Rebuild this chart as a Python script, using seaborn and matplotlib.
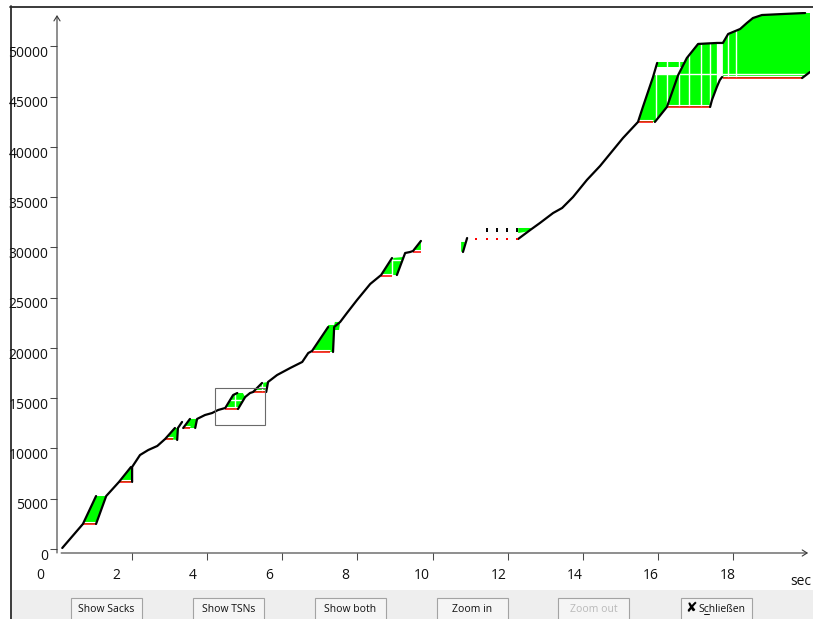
import numpy as np
import pandas as pd
import matplotlib
matplotlib.use("Agg")
import matplotlib.pyplot as plt
import matplotlib.transforms as mtransforms
from matplotlib.patches import Polygon, Rectangle
from matplotlib.lines import Line2D
import seaborn as sns

sns.set_style("white")
plt.rcParams["font.family"] = ["Open Sans", "DejaVu Sans"]

# ---------------------------------------------------------------- data
# Transmitted TSNs (black trace), one list per unbroken run
tsn_t = [
    [0.14, 0.69, 1.04],
    [1.04, 1.31, 1.65, 1.97],
    [2.00, 2.00, 2.21, 2.43, 2.67, 2.88, 3.14],
    [3.20, 3.22, 3.33],
    [3.36, 3.54],
    [3.68, 3.73, 3.94, 4.13, 4.29, 4.48, 4.69, 4.80],
    [4.82, 5.01, 5.14, 5.22, 5.46],
    [5.57, 5.62, 5.86, 6.21, 6.53, 6.69, 6.79, 7.22],
    [7.35, 7.38, 7.54, 7.72, 7.99, 8.34, 8.63, 8.92],
    [9.05, 9.27, 9.40, 9.48, 9.69],
    [10.81, 10.92],
    [12.28, 12.60, 12.86, 13.21, 13.45, 13.74, 14.11, 14.46, 15.07, 15.47,
     15.60, 15.87, 15.98],
    [15.92, 16.24, 16.54, 16.77, 17.07, 17.57, 17.73, 17.87, 18.19, 18.37,
     18.53, 18.77, 19.33, 19.92],
    [17.39, 17.44, 17.57, 17.65, 17.71],
    [19.84, 20.05],
]
tsn_v = [
    [100, 2490, 5270],
    [2490, 5270, 6670, 8160],
    [6670, 8160, 9350, 9850, 10250, 10950, 12040],
    [10850, 12040, 12640],
    [12040, 12940],
    [12040, 12940, 13330, 13530, 13830, 14030, 15320, 15520],
    [13930, 15120, 15520, 15620, 16520],
    [15620, 16620, 17310, 18010, 18610, 19500, 19700, 22090],
    [19600, 22090, 22590, 23480, 24780, 26370, 27260, 28950],
    [27260, 29450, 29550, 29650, 30650],
    [29550, 30940],
    [30850, 31740, 32440, 33430, 33930, 35020, 36720, 38110, 40890, 42490,
     43980, 46960, 48360],
    [42490, 43980, 47160, 48850, 50250, 50350, 50350, 51240, 51740, 52340,
     52830, 53130, 53230, 53330],
    [43980, 44680, 45970, 46670, 46960],
    [46860, 47460],
]

# Single TSNs / cumulative acks in the sparse stretch around 11-12 s
lone_tsn_t = [11.45, 11.72, 11.98, 12.25]
lone_tsn_v = [31740, 31740, 31740, 31740]
lone_ack_t = [11.16, 11.45, 11.72, 11.98, 12.25]
lone_ack_v = [30850, 30850, 30850, 30850, 30850]

# Cumulative TSN ack (red): start time, end time, acked TSN
cum_t0 = [0.69, 1.65, 2.88, 3.36, 4.48, 5.22, 6.79, 8.63, 9.48, 15.47, 16.24, 17.73]
cum_t1 = [1.04, 1.97, 3.09, 3.54, 4.82, 5.54, 7.27, 8.92, 9.69, 15.87, 17.39, 19.84]
cum_v = [2490, 6670, 10950, 12040, 13930, 15620, 19600, 27160, 29550, 42490, 43980, 46860]

# Gap-ack blocks (green), outline vertices as (time, TSN)
gap_t = [
    [0.69, 1.04, 1.31, 1.04],
    [1.65, 1.97, 2.00, 2.00],
    [2.88, 3.14, 3.22, 3.20],
    [3.36, 3.54, 3.73, 3.68],
    [4.48, 4.69, 4.80, 4.95, 5.01, 4.82],
    [5.22, 5.46, 5.62, 5.57],
    [6.79, 7.22, 7.22, 7.38, 7.40, 7.54, 7.51, 7.38, 7.35],
    [8.63, 8.92, 9.21, 9.27, 9.05],
    [9.48, 9.69, 9.69],
    [10.76, 10.76, 10.86, 10.84],
    [12.28, 12.28, 12.62, 12.60],
    [15.47, 15.87, 15.90, 16.56, 16.77, 17.07, 17.57, 17.57, 17.44, 17.39,
     16.24, 15.98, 15.92],
    [15.98, 16.70, 16.70, 15.98],
    [17.73, 17.73, 17.87, 18.19, 18.37, 18.53, 18.77, 19.33, 19.92, 20.05,
     20.05, 19.84],
]
gap_v = [
    [2490, 5270, 5270, 2490],
    [6670, 8160, 8160, 6670],
    [10950, 12040, 12040, 10850],
    [12040, 12940, 12940, 12040],
    [14030, 15320, 15520, 15520, 15120, 13930],
    [15620, 16520, 16620, 15620],
    [19700, 22090, 22290, 22290, 22590, 22590, 21790, 21790, 19600],
    [27260, 28950, 29050, 29450, 27260],
    [29650, 30650, 29650],
    [29550, 30550, 30550, 29750],
    [31440, 31940, 31940, 31640],
    [42490, 46960, 47260, 47260, 48850, 50350, 50350, 45970, 44680, 43980,
     43980, 42690, 42490],
    [48460, 48460, 47960, 47960],
    [46860, 50350, 51240, 51740, 52340, 52830, 53130, 53230, 53330, 53330,
     47460, 46860],
]
# Boundaries between neighbouring gap blocks
gap_split_t = [4.75, 5.46, 8.92, 15.95, 16.24, 16.56, 16.83, 17.15, 17.39, 17.87, 18.08]
gap_split_v = [14830, 16120, 28760, 47310]

# Zoom selection frame (time span, TSN span)
zoom_t = [4.21, 5.54]
zoom_v = [12340, 16020]

xticks = [2, 4, 6, 8, 10, 12, 14, 16, 18]
xlabels = ["0", "2", "4", "6", "8", "10", "12", "14", "16", "18"]
xlabel_pos = [0, 2, 4, 6, 8, 10, 12, 14, 16, 18]
yticks = [0, 5000, 10000, 15000, 20000, 25000, 30000, 35000, 40000, 45000, 50000]
buttons = ["Show Sacks", "Show TSNs", "Show both", "Zoom in", "Zoom out", "Schließen"]

GREEN = "#00ff00"
RED = "#ff0000"

# ---------------------------------------------------------------- figure
W, H = 813, 619
fig = plt.figure(figsize=(W / 100, H / 100), dpi=100)
fig.patch.set_facecolor("white")


def fx(px):
    return px / W


def fy(py):
    return 1 - py / H


def shift(dx, dy):
    """Offset in screen pixels (dy positive = downwards)."""
    return mtransforms.ScaledTranslation(dx / 100, -dy / 100, fig.dpi_scale_trans)


ax = fig.add_axes([fx(57), fy(553), (810 - 57) / W, (553 - 12) / H])
ax.set_facecolor("none")
for sp in ax.spines.values():
    sp.set_visible(False)

# gap-ack blocks with white separators clipped to each block
for pt, pv in zip(gap_t, gap_v):
    patch = Polygon(np.column_stack([pt, pv]), closed=True, facecolor=GREEN,
                    edgecolor="none", zorder=1)
    ax.add_patch(patch)
    for t in gap_split_t:
        ln = ax.axvline(t, color="white", lw=1.0, zorder=1.5)
        ln.set_clip_path(patch)
    for v in gap_split_v:
        ln = ax.axhline(v, color="white", lw=1.0, zorder=1.5)
        ln.set_clip_path(patch)

# cumulative ack lines, each with a thin white seam above
ax.hlines(cum_v, cum_t0, cum_t1, colors="white", lw=0.8, zorder=1.8,
          transform=ax.transData + shift(0, -1.6))
red_df = pd.DataFrame({
    "run": np.repeat(np.arange(len(cum_v)), 2),
    "time": np.column_stack([cum_t0, cum_t1]).ravel(),
    "tsn": np.repeat(cum_v, 2),
})
sns.lineplot(data=red_df, x="time", y="tsn", units="run", estimator=None,
             sort=False, color=RED, linewidth=1.1, ax=ax, legend=False,
             zorder=2, solid_capstyle="butt")

# TSN trace
tsn_df = pd.DataFrame(
    [(i, t, v) for i, (ts, vs) in enumerate(zip(tsn_t, tsn_v)) for t, v in zip(ts, vs)],
    columns=["run", "time", "tsn"])
sns.lineplot(data=tsn_df, x="time", y="tsn", units="run", estimator=None,
             sort=False, color="black", linewidth=1.6, ax=ax, legend=False,
             zorder=4)
sns.scatterplot(x=lone_tsn_t, y=lone_tsn_v, marker="|", s=9, color="black",
                linewidth=1.4, ax=ax, zorder=4, legend=False)
sns.scatterplot(x=lone_ack_t, y=lone_ack_v, marker="s", s=2, color=RED,
                edgecolor="none", ax=ax, zorder=4, legend=False)

# zoom selection frame
ax.add_patch(Rectangle((zoom_t[0], zoom_v[0]), zoom_t[1] - zoom_t[0],
                       zoom_v[1] - zoom_v[0], fill=False, edgecolor="#6a6a6a",
                       lw=0.8, zorder=5))

ax.set_xlim(0, 20.05)
ax.set_ylim(-398, 53430)
ax.set_xlabel("")
ax.set_ylabel("")

# axes with open arrow heads
arrow_kw = dict(arrowstyle="->,head_length=0.35,head_width=0.22", color="#3a3a3a",
                lw=0.8, shrinkA=0, shrinkB=0, clip_on=False)
ax.annotate("", xy=(0, 53130), xytext=(0, -398), arrowprops=arrow_kw,
            annotation_clip=False)
ax.annotate("", xy=(20.0, -398), xytext=(0.11, -398), arrowprops=arrow_kw,
            annotation_clip=False)

# ticks
ax.set_xticks(xticks)
ax.set_yticks(yticks)
ax.tick_params(axis="both", direction="out", length=5.0, width=0.75,
               color="#4a4a4a", labelbottom=False, labelleft=False,
               bottom=True, left=True)

label_kw = dict(fontsize=10, color="#111111", family=["Open Sans", "DejaVu Sans"])
xtr = mtransforms.blended_transform_factory(ax.transData, fig.transFigure)
for i, (pos, lab) in enumerate(zip(xlabel_pos, xlabels)):
    dx = -16.5 + 0.6 * pos
    fig.text(pos, fy(579.3), lab, transform=xtr + shift(dx, 0), ha="center",
             va="baseline", **label_kw)
fig.text(fx(790.5), fy(585), "sec", ha="left", va="baseline", **label_kw)

ytr = mtransforms.blended_transform_factory(fig.transFigure, ax.transData)
for v in yticks:
    fig.text(fx(48.5), v, f"{v}", transform=ytr + shift(0, 10.6), ha="right",
             va="baseline", **label_kw)

# window frame
fig.add_artist(Line2D([fx(10.5), fx(10.5)], [fy(6), fy(620)], color="#2b2b2b",
                      lw=1.3, transform=fig.transFigure))
fig.add_artist(Line2D([fx(10), fx(814)], [fy(6.5), fy(6.5)], color="#2b2b2b",
                      lw=1.3, transform=fig.transFigure))

# button bar
fig.add_artist(Rectangle((fx(11.5), 0), 1 - fx(11.5), fy(590), facecolor="#eeeeee",
                         edgecolor="none", transform=fig.transFigure, zorder=0))
btn_left = [71, 193, 315, 437, 558, 681]
btn_font = ["Open Sans", "DejaVu Sans"]
btn_size = 7.5
for left, name in zip(btn_left, buttons):
    fig.add_artist(Rectangle((fx(left), fy(623)), 71 / W, 25 / H,
                             facecolor="#f5f5f5", edgecolor="#a3a3a3", lw=0.8,
                             transform=fig.transFigure, zorder=1))
    col = "#b9b9b9" if name == "Zoom out" else "#111111"
    if name == "Schließen":
        fig.text(fx(691), fy(612), "\u2718", ha="center", va="baseline",
                 fontsize=10, color="black", family=["DejaVu Sans"], zorder=2)
        fig.text(fx(698), fy(611.7), name, ha="left", va="baseline",
                 fontsize=btn_size, color=col, family=btn_font, zorder=2)
        r = fig.canvas.get_renderer()
        m1 = fig.text(0, 0, "S", fontsize=btn_size, family=btn_font)
        m2 = fig.text(0, 0, "Sc", fontsize=btn_size, family=btn_font)
        w_s = m1.get_window_extent(r).width
        w_sc = m2.get_window_extent(r).width
        m1.remove()
        m2.remove()
        fig.add_artist(Line2D([fx(698 + w_s), fx(698 + w_sc)], [fy(613.6), fy(613.6)],
                              color="#111111", lw=0.7, transform=fig.transFigure,
                              zorder=2))
    else:
        fig.text(fx(left + 35.5), fy(611.7), name, ha="center", va="baseline",
                 fontsize=btn_size, color=col, family=btn_font, zorder=2)

fig.savefig("out.png", dpi=100, facecolor="white")
